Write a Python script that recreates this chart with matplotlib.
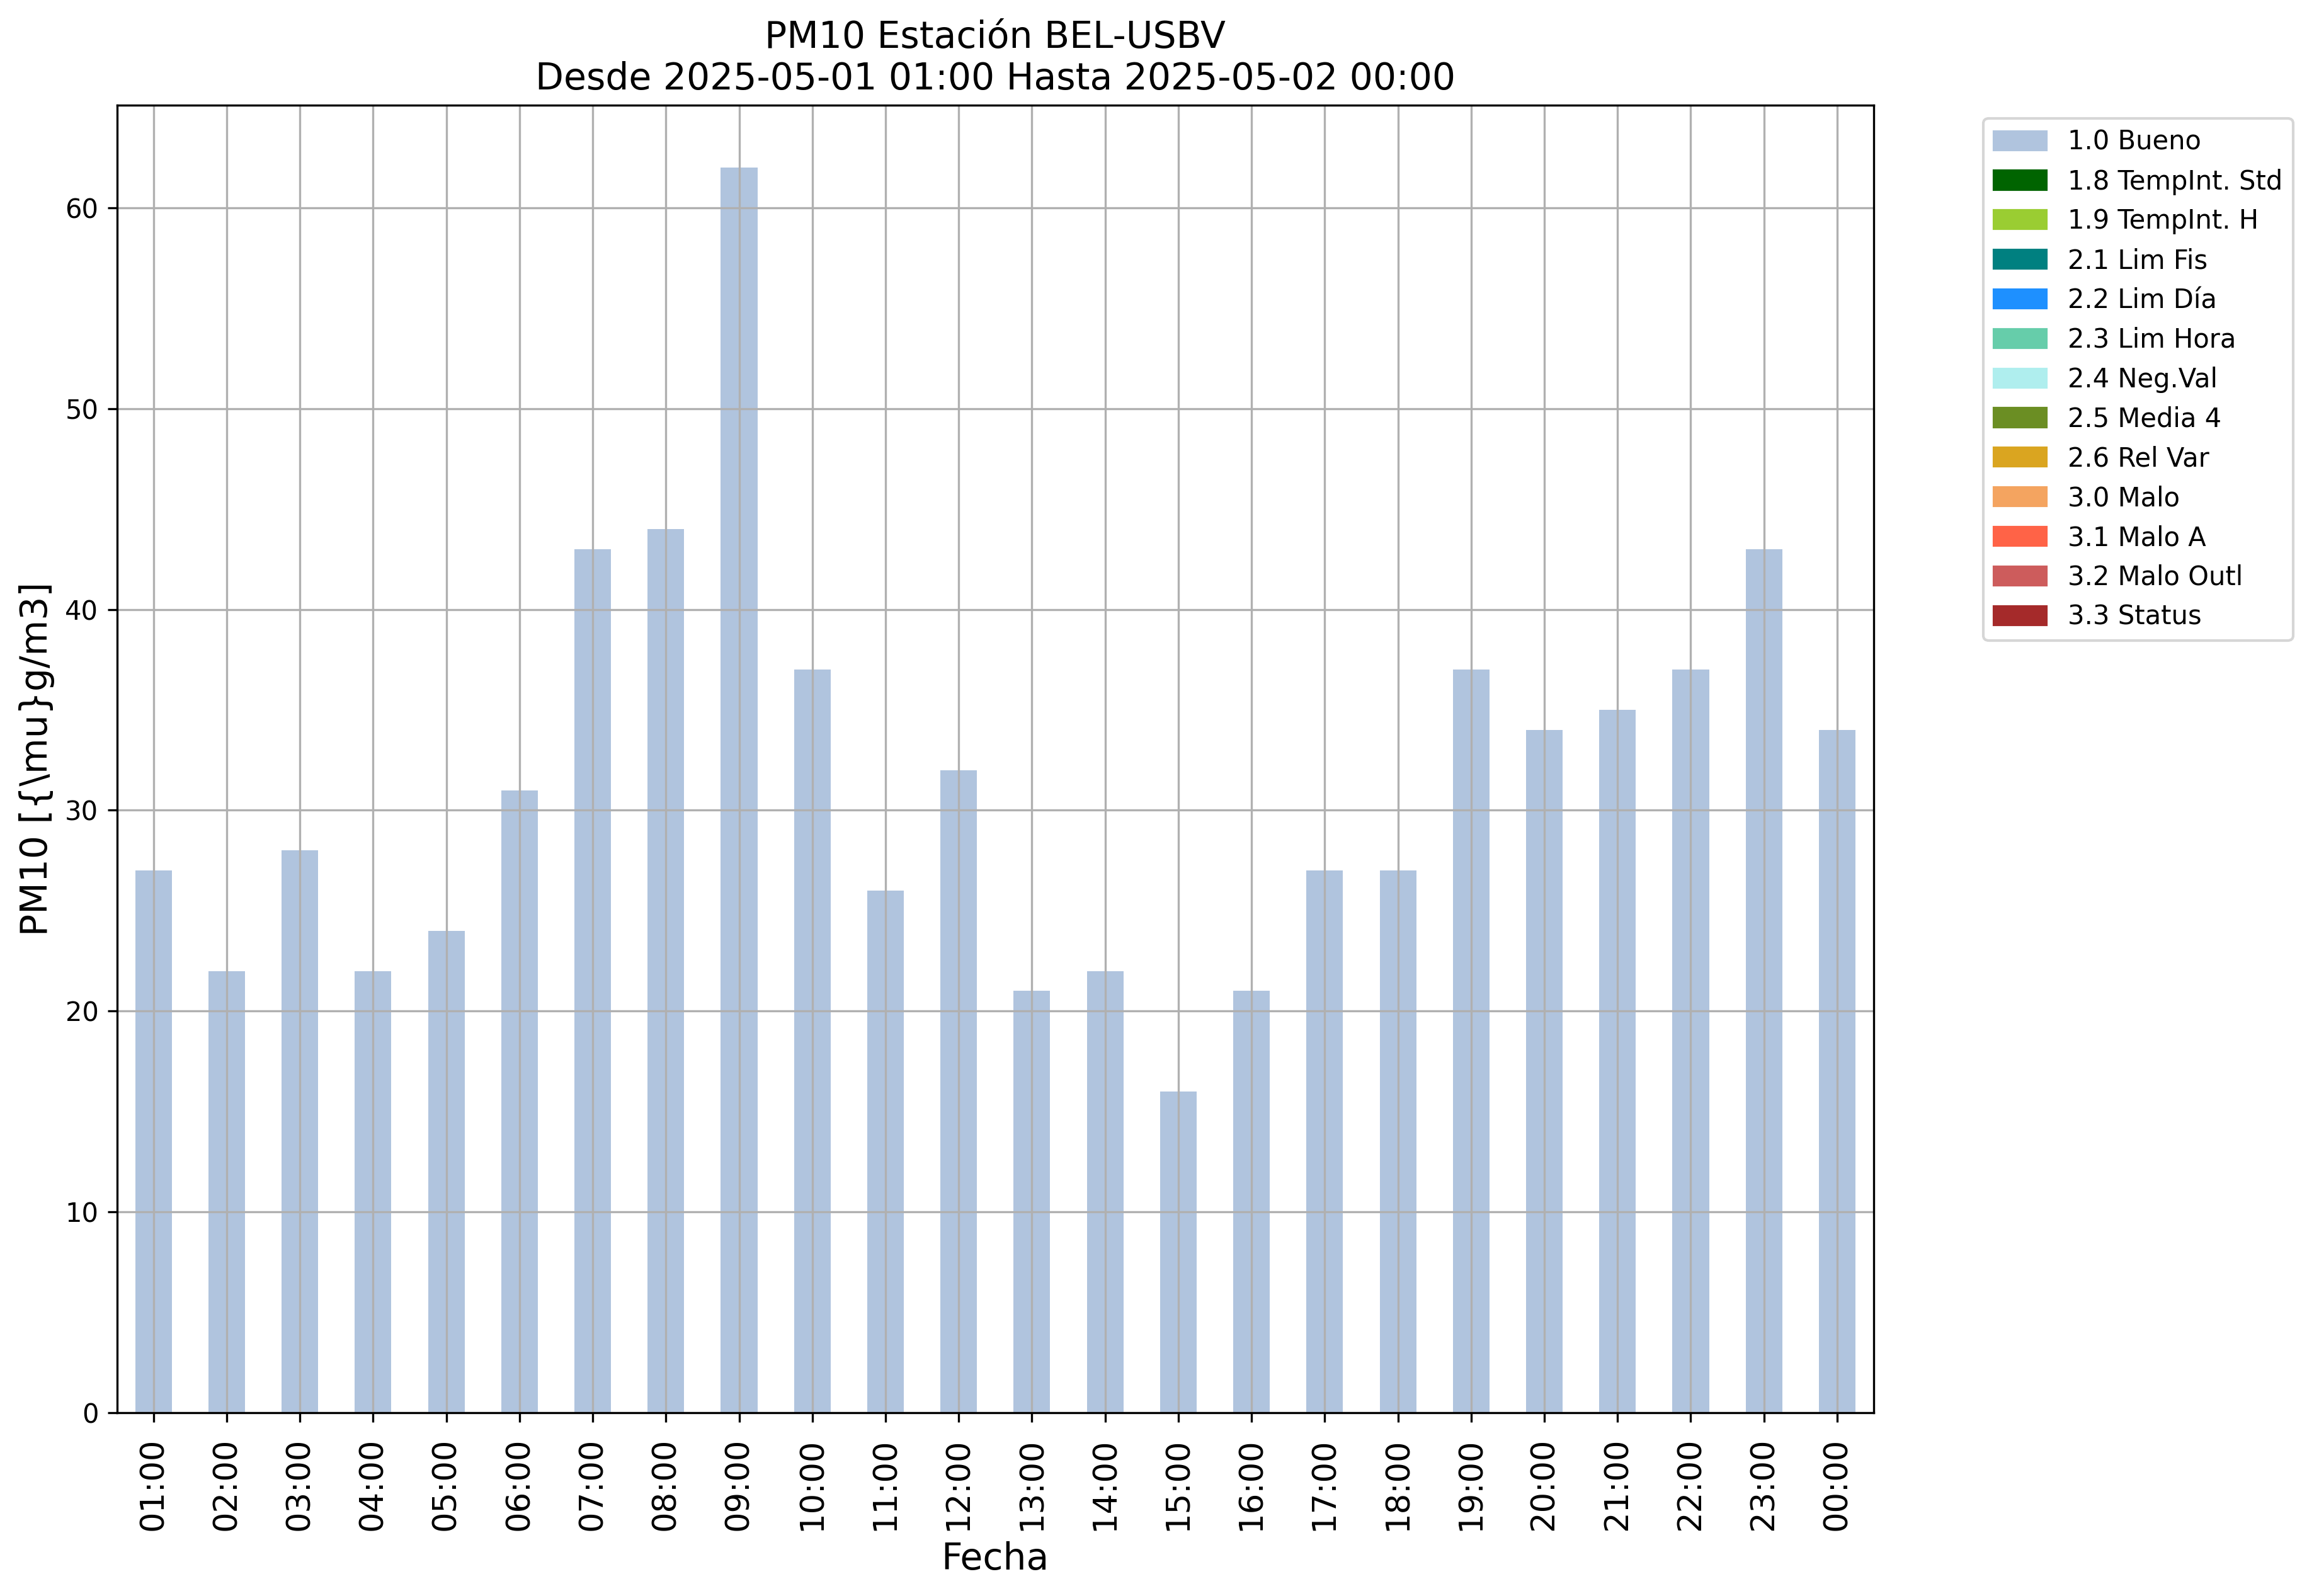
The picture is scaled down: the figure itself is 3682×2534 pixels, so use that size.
import matplotlib
matplotlib.use("Agg")
import matplotlib.pyplot as plt
from matplotlib.patches import Patch
import numpy as np

# datos horarios PM10
horas = ["01:00", "02:00", "03:00", "04:00", "05:00", "06:00", "07:00", "08:00",
         "09:00", "10:00", "11:00", "12:00", "13:00", "14:00", "15:00", "16:00",
         "17:00", "18:00", "19:00", "20:00", "21:00", "22:00", "23:00", "00:00"]
pm10 = [27, 22, 28, 22, 24, 31, 43, 44, 62, 37, 26, 32,
        21, 22, 16, 21, 27, 27, 37, 34, 35, 37, 43, 34]

# banderas de calidad
flags = ["1.0 Bueno", "1.8 TempInt. Std", "1.9 TempInt. H", "2.1 Lim Fis",
         "2.2 Lim Día", "2.3 Lim Hora", "2.4 Neg.Val", "2.5 Media 4",
         "2.6 Rel Var", "3.0 Malo", "3.1 Malo A", "3.2 Malo Outl", "3.3 Status"]
flag_colors = ["lightsteelblue", "darkgreen", "yellowgreen", "teal", "dodgerblue",
               "mediumaquamarine", "paleturquoise", "olivedrab", "goldenrod",
               "sandybrown", "tomato", "indianred", "brown"]

fig = plt.figure(figsize=(3682/300, 2534/300), dpi=300)
ax = fig.add_axes([0.0504, 0.1148, 0.7576, 0.8192])

x = np.arange(len(horas))
ax.bar(x, pm10, width=0.5, color=flag_colors[0])
ax.set_xlim(-0.5, len(horas) - 0.5)
ax.set_ylim(0, 65.1)
ax.set_xticks(x)
ax.set_xticklabels(horas, rotation=90, fontsize=12.3)
ax.tick_params(axis='x', pad=6)
ax.tick_params(axis='y', labelsize=10)
ax.grid(True)

ax.set_xlabel("Fecha", fontsize=14)
ax.set_ylabel(r"PM10 [{\mu}g/m3]", fontsize=14)
ax.set_title("PM10 Estación BEL-USBV\nDesde 2025-05-01 01:00 Hasta 2025-05-02 00:00", fontsize=14)

handles = [Patch(color=c, label=l) for c, l in zip(flag_colors, flags)]
ax.legend(handles=handles, bbox_to_anchor=(1.055, 1), loc='upper left', fontsize=10)

fig.savefig("out.png", dpi=300)
